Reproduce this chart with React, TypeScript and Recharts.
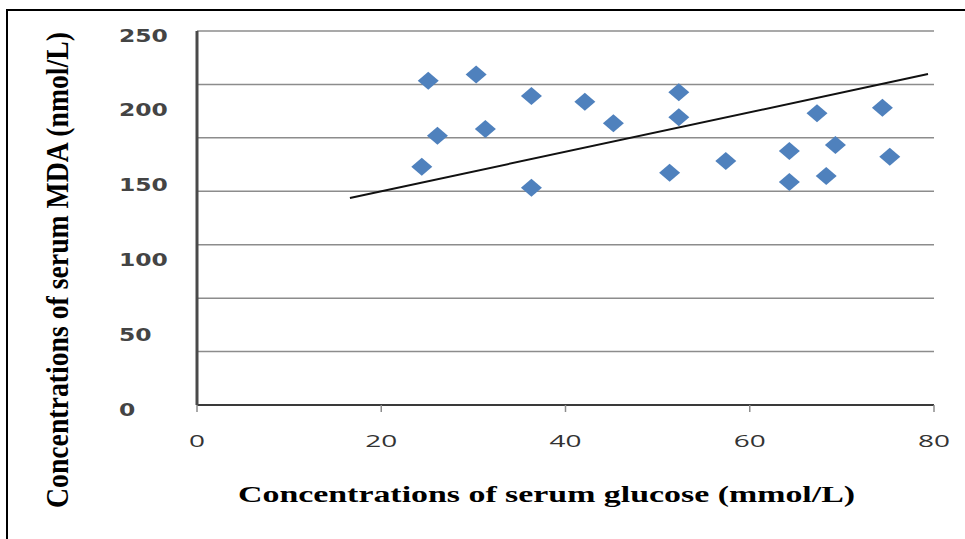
import { ScatterChart, Scatter, XAxis, YAxis, CartesianGrid, ReferenceLine } from 'recharts'

// serum glucose (mmol/L) vs serum MDA (nmol/L)
const glucose = [25.1, 30.3, 36.3, 42.1, 45.2, 52.3, 52.3, 26.1, 31.3, 24.4, 36.3, 51.3, 57.4, 64.3, 64.3, 69.3, 68.3, 67.3, 74.4, 75.2]
const mda = [216.8, 221.0, 206.5, 202.7, 188.3, 209.0, 192.3, 180.0, 184.5, 159.3, 145.2, 155.3, 163.1, 169.8, 149.1, 173.8, 153.1, 195.0, 198.7, 166.0]

// linear trend line end points
const trendX = [16.6, 79.35]
const trendY = [138.4, 221.2]

const xTicks = [0, 20, 40, 60, 80]
const yTicks = [0, 50, 100, 150, 200, 250]
// the horizontal gridlines in the figure do not follow the labels: 7 equal bands
const gridBands = [0, 1, 2, 3, 4, 5, 6, 7]

const xTitle = 'Concentrations of serum glucose (mmol/L)'
const yTitle = 'Concentrations of serum MDA (nmol/L)'

const points = glucose.map((g, i) => ({ x: g, y: mda[i] }))

function Diamond(props: any) {
  const { cx, cy } = props
  return (
    <polygon
      points={`${cx},${cy - 9} ${cx + 10.5},${cy} ${cx},${cy + 9} ${cx - 10.5},${cy}`}
      fill="#4f81bd"
    />
  )
}

function YTick({ x, y, payload }: any) {
  const s = String(payload.value)
  return (
    <text
      x={x - 78}
      y={y + 4}
      dominantBaseline="central"
      fontFamily="DejaVu Sans"
      fontWeight="bold"
      fontSize={18}
      fill="#444"
      textLength={s.length * 16.3}
      lengthAdjust="spacingAndGlyphs"
    >
      {s}
    </text>
  )
}

function XTick({ x, y, payload }: any) {
  const s = String(payload.value)
  return (
    <text
      x={x}
      y={y + 26}
      textAnchor="middle"
      dominantBaseline="central"
      fontFamily="Open Sans"
      fontSize={17}
      fill="#333"
      textLength={s.length * 16}
      lengthAdjust="spacingAndGlyphs"
    >
      {s}
    </text>
  )
}

function XTitle({ viewBox }: any) {
  const cx = viewBox.x + viewBox.width / 2 - 19
  return (
    <text
      x={cx}
      y={viewBox.y + 89}
      textAnchor="middle"
      dominantBaseline="central"
      fontFamily="Liberation Serif"
      fontWeight="bold"
      fontSize={24}
      fill="#000"
      textLength={617}
      lengthAdjust="spacingAndGlyphs"
    >
      {xTitle}
    </text>
  )
}

function YTitle({ viewBox }: any) {
  const cx = viewBox.x + 40
  const cy = viewBox.y + viewBox.height / 2 + 52
  return (
    <text
      x={cx}
      y={cy}
      transform={`rotate(-90, ${cx}, ${cy})`}
      textAnchor="middle"
      dominantBaseline="central"
      fontFamily="Liberation Serif"
      fontWeight="bold"
      fontSize={31}
      fill="#000"
      textLength={476}
      lengthAdjust="spacingAndGlyphs"
    >
      {yTitle}
    </text>
  )
}

export default function App() {
  return (
    <div style={{ position: 'fixed', left: 0, top: 0, width: 965, height: 539, overflow: 'hidden', background: '#fff' }}>
      <div
        style={{
          position: 'absolute',
          left: 6,
          top: 9,
          width: 1100,
          height: 700,
          borderLeft: '2px solid #000',
          borderTop: '2px solid #000',
        }}
      />
      <div style={{ position: 'absolute', left: 0, top: 0 }}>
        <ScatterChart width={965} height={539} margin={{ top: 31, right: 31, bottom: 74, left: 17 }}>
          <CartesianGrid
            vertical={false}
            stroke="#8c8c8c"
            strokeWidth={1.5}
            horizontalCoordinatesGenerator={({ offset }: any) =>
              gridBands.map((b) => offset.top + (offset.height * (gridBands.length - 1 - b)) / (gridBands.length - 1))
            }
          />
          <XAxis
            type="number"
            dataKey="x"
            domain={[0, 80]}
            ticks={xTicks}
            height={60}
            axisLine={{ stroke: '#3a3a3a', strokeWidth: 2 }}
            tickLine={{ stroke: '#8c8c8c', strokeWidth: 1.5 }}
            tickSize={7}
            tick={<XTick />}
            label={{ content: <XTitle /> }}
          />
          <YAxis
            type="number"
            dataKey="y"
            domain={[0, 250]}
            ticks={yTicks}
            width={180}
            tickSize={0}
            tickMargin={0}
            tickLine={false}
            axisLine={{ stroke: '#4a4a4a', strokeWidth: 3 }}
            tick={<YTick />}
            label={{ content: <YTitle /> }}
          />
          <Scatter data={points} shape={<Diamond />} isAnimationActive={false} />
          <ReferenceLine
            segment={[
              { x: trendX[0], y: trendY[0] },
              { x: trendX[1], y: trendY[1] },
            ]}
            stroke="#111"
            strokeWidth={2}
            ifOverflow="visible"
          />
        </ScatterChart>
      </div>
    </div>
  )
}
